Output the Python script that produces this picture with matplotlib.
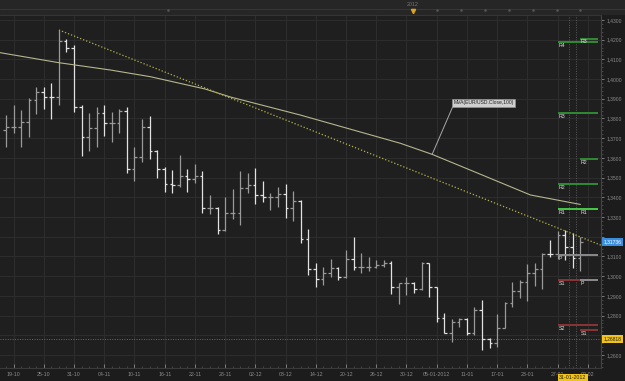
import matplotlib
matplotlib.use("Agg")
import matplotlib.pyplot as plt
import matplotlib.transforms as mtransforms
import numpy as np
import pandas as pd

plt.rcParams['font.family'] = ['Liberation Sans', 'DejaVu Sans']

# ---------------- data ----------------
dates = pd.bdate_range("2011-10-18", "2012-02-01")

opens = [1.3742, 1.3755, 1.3759, 1.3784, 1.3894, 1.3935, 1.3911, 1.3907, 1.4193, 1.4156,
         1.3860, 1.3704, 1.3750, 1.3826, 1.3775, 1.3775, 1.3838, 1.3542, 1.3606, 1.3757,
         1.3635, 1.3542, 1.3466, 1.3462, 1.3510, 1.3491, 1.3508, 1.3344, 1.3347, 1.3234,
         1.3322, 1.3322, 1.3446, 1.3462, 1.3410, 1.3403, 1.3403, 1.3415, 1.3344, 1.3383,
         1.3187, 1.3038, 1.2984, 1.3017, 1.3041, 1.2994, 1.3085, 1.3045, 1.3048, 1.3048,
         1.3056, 1.3065, 1.2943, 1.2963, 1.2967, 1.2933, 1.3065, 1.2943, 1.2786, 1.2713,
         1.2769, 1.2781, 1.2710, 1.2828, 1.2679, 1.2659, 1.2735, 1.2862, 1.2926, 1.2972,
         1.3017, 1.3034, 1.3112, 1.3111, 1.3209, 1.3146, 1.3090]
highs = [1.3818, 1.3869, 1.3843, 1.3902, 1.3958, 1.3962, 1.3979, 1.4249, 1.4204, 1.4173,
         1.3869, 1.3830, 1.3857, 1.3869, 1.3835, 1.3847, 1.3857, 1.3657, 1.3797, 1.3813,
         1.3640, 1.3556, 1.3539, 1.3615, 1.3542, 1.3569, 1.3535, 1.3412, 1.3349, 1.3400,
         1.3440, 1.3534, 1.3522, 1.3547, 1.3484, 1.3424, 1.3454, 1.3466, 1.3434, 1.3386,
         1.3237, 1.3065, 1.3048, 1.3085, 1.3045, 1.3132, 1.3200, 1.3119, 1.3095, 1.3082,
         1.3082, 1.3078, 1.2967, 1.2997, 1.2972, 1.3073, 1.3068, 1.2946, 1.2811, 1.2781,
         1.2786, 1.2789, 1.2842, 1.2879, 1.2684, 1.2806, 1.2870, 1.2972, 1.2980, 1.3061,
         1.3065, 1.3119, 1.3183, 1.3231, 1.3234, 1.3217, 1.3200]
lows = [1.3654, 1.3728, 1.3657, 1.3704, 1.3823, 1.3850, 1.3797, 1.3867, 1.4136, 1.3835,
        1.3610, 1.3637, 1.3657, 1.3711, 1.3682, 1.3728, 1.3525, 1.3484, 1.3581, 1.3593,
        1.3496, 1.3429, 1.3420, 1.3451, 1.3429, 1.3471, 1.3322, 1.3315, 1.3214, 1.3231,
        1.3288, 1.3259, 1.3420, 1.3366, 1.3378, 1.3336, 1.3353, 1.3293, 1.3281, 1.3166,
        1.3006, 1.2946, 1.2955, 1.2997, 1.2980, 1.2990, 1.3031, 1.3017, 1.3028, 1.3039,
        1.3045, 1.2909, 1.2858, 1.2904, 1.2913, 1.2929, 1.2896, 1.2769, 1.2710, 1.2667,
        1.2743, 1.2701, 1.2701, 1.2625, 1.2633, 1.2642, 1.2735, 1.2842, 1.2887, 1.2875,
        1.2950, 1.2933, 1.3099, 1.3085, 1.3082, 1.3039, 1.3028]
closes = [1.3755, 1.3759, 1.3784, 1.3894, 1.3935, 1.3911, 1.3907, 1.4193, 1.4156, 1.3860,
          1.3704, 1.3750, 1.3826, 1.3775, 1.3775, 1.3838, 1.3542, 1.3606, 1.3757, 1.3635,
          1.3542, 1.3466, 1.3462, 1.3510, 1.3491, 1.3508, 1.3344, 1.3347, 1.3234, 1.3322,
          1.3322, 1.3446, 1.3462, 1.3410, 1.3403, 1.3403, 1.3415, 1.3344, 1.3383, 1.3187,
          1.3038, 1.2984, 1.3017, 1.3041, 1.2994, 1.3085, 1.3045, 1.3048, 1.3048, 1.3056,
          1.3065, 1.2943, 1.2963, 1.2967, 1.2933, 1.3065, 1.2943, 1.2786, 1.2713, 1.2769,
          1.2781, 1.2710, 1.2828, 1.2679, 1.2659, 1.2735, 1.2862, 1.2926, 1.2972, 1.3017,
          1.3034, 1.3112, 1.3111, 1.3209, 1.3146, 1.3090, 1.31736]

# 100-period moving average, read at bar positions
ma_x = [-0.8, 7.0, 13.8, 19.1, 26.3, 29.7, 38.9, 52.2, 56.4, 61.4, 69.4, 76.0]
ma_val = [1.4134, 1.4083, 1.4046, 1.4012, 1.3950, 1.3909, 1.3818, 1.3674, 1.3618, 1.3539, 1.3412, 1.3364]

# trend line anchors (bar, price)
trend_x = [7, 76]
trend_val = [1.4249, 1.3199]

# pivot levels
pivA_names = ["R4", "R3", "R2", "R1", "P", "S1", "S2"]
pivA_vals = [1.4187, 1.3828, 1.3466, 1.3339, 1.3107, 1.2980, 1.2752]
pivB_names = ["R3", "R2", "R1", "P", "S1"]
pivB_vals = [1.4204, 1.3593, 1.3339, 1.2980, 1.2726]

last_price = 1.31736
marker_price = 1.26818
cursor_date = "31-01-2012"
ma_label = "MVA(EUR/USD.Close,100)"
year_label = "2012"

tick_labels = ["19-10", "25-10", "31-10", "04-11", "10-11", "16-11", "22-11", "28-11",
               "02-12", "08-12", "14-12", "20-12", "26-12", "30-12", "05-01-2012", "11-01",
               "17-01", "23-01", "27-01", "02-02"]
price_ticks = [1.26, 1.27, 1.28, 1.29, 1.30, 1.31, 1.32, 1.33, 1.34, 1.35,
               1.36, 1.37, 1.38, 1.39, 1.40, 1.41, 1.42, 1.43]

# ---------------- styling ----------------
BG = '#1f1f1f'
FIGBG = '#1c1c1c'
GRID = '#2e2e2e'
TXT = '#8c8c8c'
UP = '#9a9a9a'
DOWN = '#e2e2e2'

W, H = 625, 381
fig = plt.figure(figsize=(W / 100, H / 100), dpi=100, facecolor=FIGBG)

top_px, bot_px, right_px = 15, 368, 601
ax = fig.add_axes([0, (H - bot_px) / H, right_px / W, (bot_px - top_px) / H], facecolor=BG)

n = len(opens)
idx = np.arange(n)
xmin, xmax = -0.8, 78.75
ymin, ymax = 1.2534, 1.4325
ax.set_xlim(xmin, xmax)
ax.set_ylim(ymin, ymax)

# grid / ticks
ticks_x = list(range(1, 1 + 4 * len(tick_labels), 4))
ax.set_xticks(ticks_x)
ax.set_xticklabels(tick_labels)
ax.set_xticks(np.arange(0, 79), minor=True)


def price_fmt(v):
    # labels hidden behind the highlighted price boxes
    if abs(v - last_price) < 0.005 or abs(v - marker_price) < 0.005:
        return ""
    return f"{v:.4f}".replace('.', ',')


ax.set_yticks(price_ticks)
ax.set_yticklabels([price_fmt(v) for v in price_ticks])
ax.set_yticks(np.arange(1.254, 1.432, 0.002), minor=True)
ax.grid(True, which='major', color=GRID, lw=0.7)
ax.set_axisbelow(True)

ax.yaxis.tick_right()
ax.tick_params(axis='y', which='major', labelsize=3.6, colors=TXT, length=2.5, pad=1.5, width=0.6, direction='out')
ax.tick_params(axis='y', which='minor', length=1.3, colors='#555555', width=0.5, direction='out')
ax.tick_params(axis='x', which='major', labelsize=3.8, colors=TXT, length=3, pad=3, width=0.6, direction='in')
ax.tick_params(axis='x', which='minor', length=1.5, colors='#555555', width=0.5, direction='in')
for lab in ax.get_xticklabels() + ax.get_yticklabels():
    lab.set_color(TXT)
ax.spines['left'].set_visible(False)
ax.spines['right'].set_color('#444444')
ax.spines['right'].set_lw(0.8)
ax.spines['bottom'].set_color('#3a3a3a')
ax.spines['bottom'].set_lw(0.8)
ax.spines['top'].set_color('#3a3a3a')
ax.spines['top'].set_lw(0.6)

# dotted session separators and marker level
for xs in [74.5, 75.5]:
    ax.axvline(xs, color='#5a5a5a', lw=0.7, ls=(0, (1, 1.5)), zorder=1)
ax.axhline(marker_price, color='#6a6a6a', lw=0.7, ls=(0, (1, 1.5)), zorder=1)

# OHLC bars
tw = 0.36
for i in idx:
    c = UP if closes[i] >= opens[i] else DOWN
    ax.vlines(i, lows[i], highs[i], color=c, lw=0.9, zorder=3)
    ax.hlines(opens[i], i - tw, i, color=c, lw=0.9, zorder=3)
    ax.hlines(closes[i], i, i + tw, color=c, lw=0.9, zorder=3)

# moving average
ax.plot(ma_x, ma_val, color='#b6b68e', lw=0.8, zorder=4)

# trend line (extended to the right edge)
slope = (trend_val[1] - trend_val[0]) / (trend_x[1] - trend_x[0])
tx = [trend_x[0], xmax]
ty = [trend_val[0], trend_val[0] + slope * (xmax - trend_x[0])]
ax.plot(tx, ty, color='#b8b44a', lw=0.9, ls=(0, (1, 1.6)), zorder=4)


# pivot levels
def piv_color(name):
    if name.startswith('R'):
        return '#45c845' if name == 'R1' else '#2f8a32'
    if name.startswith('S'):
        return '#8a3434'
    return '#8a8a8a'


pA0, pB0, pEnd = 73.1, 76.0, 78.4
for name, v in zip(pivA_names, pivA_vals):
    ax.hlines(v, pA0, pEnd, color=piv_color(name), lw=1.4, zorder=5)
    ax.text(pA0 + 0.05, v - 0.0003, name, fontsize=3.8, color='#dddddd', va='top', ha='left', zorder=6)
for name, v in zip(pivB_names, pivB_vals):
    ax.hlines(v, pB0, pEnd, color=piv_color(name), lw=1.4, zorder=5)
    ax.text(pB0 + 0.05, v - 0.0003, name, fontsize=3.8, color='#dddddd', va='top', ha='left', zorder=6)

# MA label
ma_anchor_x = ma_x[8]
ma_anchor_y = ma_val[8]
ax.annotate(ma_label, xy=(ma_anchor_x, ma_anchor_y), xytext=(59.2, 1.3879),
            fontsize=3.6, color='#222222', ha='left', va='center',
            bbox=dict(boxstyle='square,pad=0.25', fc='#cfcfcf', ec='#9a9a9a', lw=0.4),
            arrowprops=dict(arrowstyle='-', color='#a8a8a8', lw=0.7, shrinkA=0, shrinkB=0, relpos=(0, 0)),
            zorder=7)

# price labels on the axis
tr_y = mtransforms.blended_transform_factory(ax.transAxes, ax.transData)
ax.text(1.004, last_price, f"{last_price:.5f}".replace('.', ','), transform=tr_y, fontsize=3.6,
        color='white', ha='left', va='center', clip_on=False, zorder=8,
        bbox=dict(boxstyle='square,pad=0.25', fc='#3b8ede', ec='none'))
ax.text(1.004, marker_price, f"{marker_price:.5f}".replace('.', ','), transform=tr_y, fontsize=3.6,
        color='#222222', ha='left', va='center', clip_on=False, zorder=8,
        bbox=dict(boxstyle='square,pad=0.25', fc='#f2c318', ec='none'))

# cursor date label
tr_x = mtransforms.blended_transform_factory(ax.transData, ax.transAxes)
cursor_pos = list(dates.strftime("%d-%m-%Y")).index(cursor_date)
ax.text(cursor_pos, -0.02, cursor_date, transform=tr_x, fontsize=3.8, color='#222222',
        ha='center', va='top', clip_on=False, zorder=8,
        bbox=dict(boxstyle='square,pad=0.25', fc='#f2c318', ec='none'))

# top navigator strip
axt = fig.add_axes([0, (H - top_px) / H, 1, top_px / H], facecolor='#262626')
axt.set_xlim(0, W)
axt.set_ylim(top_px, 0)
axt.set_xticks([])
axt.set_yticks([])
for s in axt.spines.values():
    s.set_visible(False)
axt.axhline(8.5, color='#3a3a3a', lw=0.6)
axt.text(413, 4, year_label, fontsize=3.8, color='#777777', ha='center', va='center')
axt.plot([413], [11], marker='v', ms=3, color='#d9a520', mec='#d9a520')
for xm in [168, 437, 461, 485, 509, 533, 557, 580]:
    axt.plot([xm], [9.5], marker='s', ms=0.8, color='#555555')

fig.savefig("out.png", dpi=100, facecolor=FIGBG)
